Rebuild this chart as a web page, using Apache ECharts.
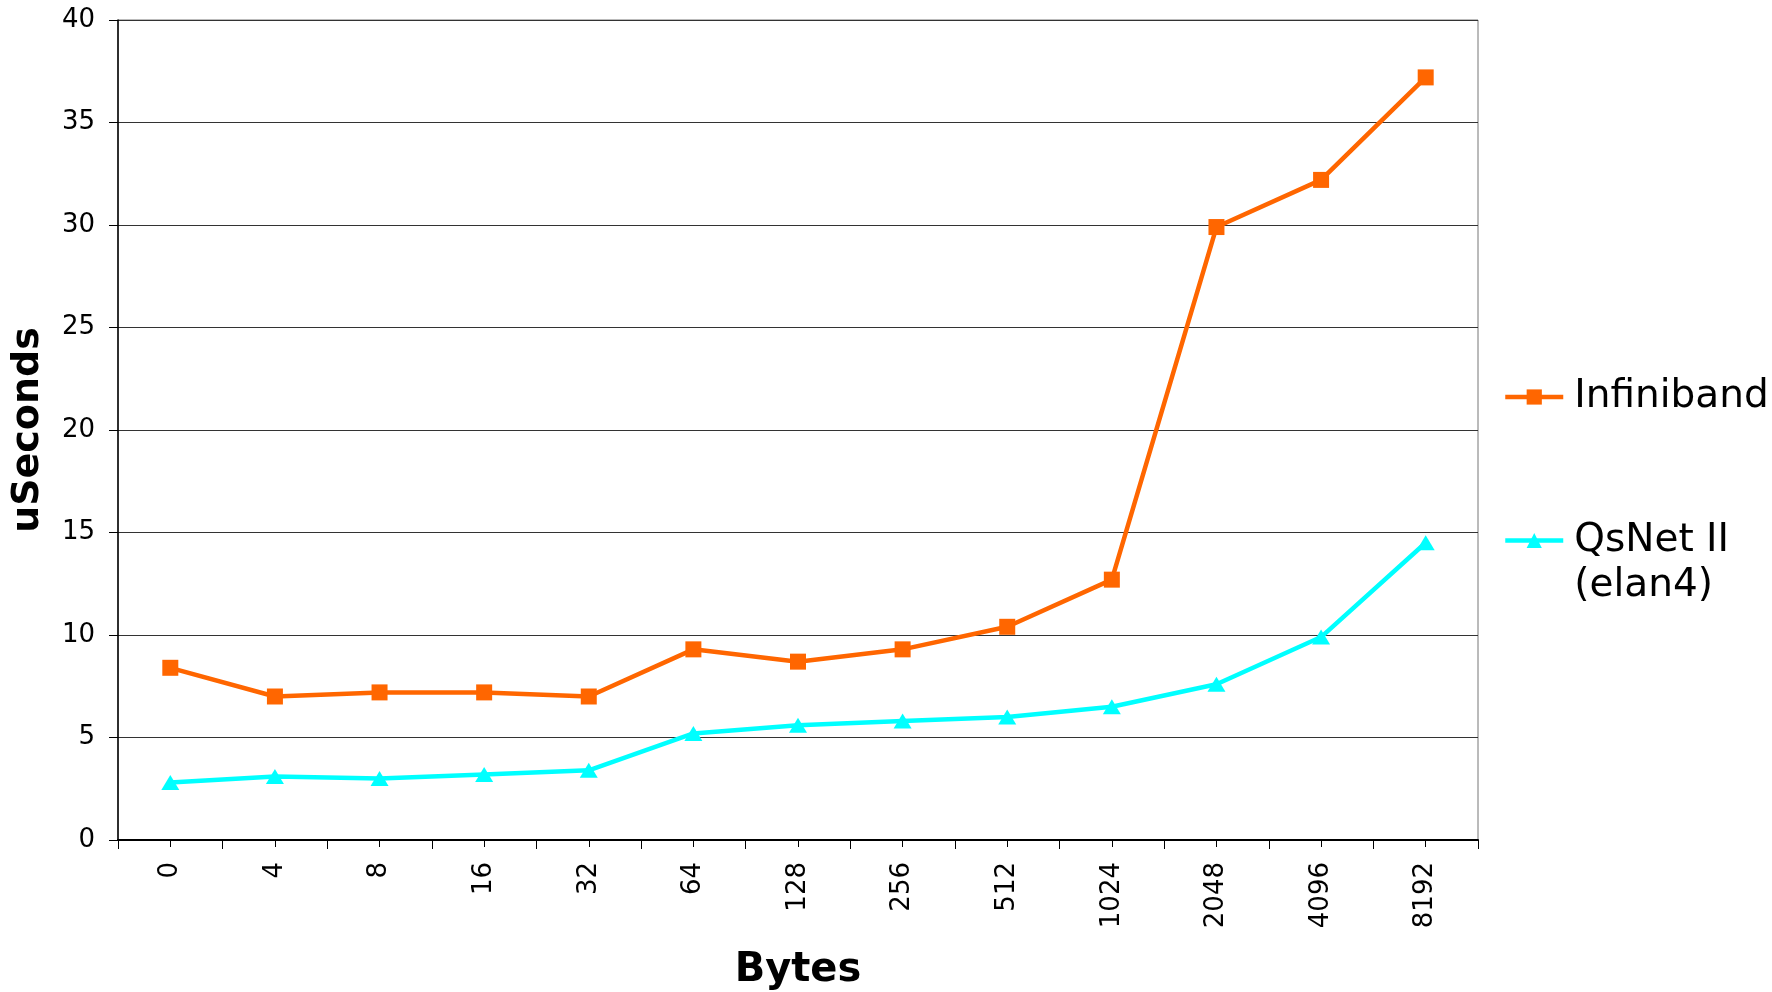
<!DOCTYPE html>
<html>
<head>
<meta charset="utf-8">
<script src="https://cdn.jsdelivr.net/npm/echarts@6/dist/echarts.min.js"></script>
<style>
  html, body { margin: 0; padding: 0; background: #fff; }
  #chart { width: 1772px; height: 992px; }
</style>
</head>
<body>
<div id="chart"></div>
<script>
// Message sizes (bytes) on the x axis
const categories = ['0', '4', '8', '16', '32', '64', '128', '256', '512', '1024', '2048', '4096', '8192'];

// Latency in microseconds
const infinibandName = 'Infiniband';
const infiniband = [8.4, 7.0, 7.2, 7.2, 7.0, 9.3, 8.7, 9.3, 10.4, 12.7, 29.9, 32.2, 37.2];

const qsnetName = 'QsNet II (elan4)';
const qsnet = [2.8, 3.1, 3.0, 3.2, 3.4, 5.2, 5.6, 5.8, 6.0, 6.5, 7.6, 9.9, 14.5];

const yMin = 0, yMax = 40, yStep = 5;

const FONT = '"DejaVu Sans", Verdana, sans-serif';

const chart = echarts.init(document.getElementById('chart'), null, { renderer: 'canvas' });

chart.setOption({
  backgroundColor: '#ffffff',
  animation: false,
  grid: {
    left: 118, top: 20, right: 294, bottom: 152,
    outerBoundsMode: 'none',
    containLabel: false,
    show: true, borderColor: '#777777', borderWidth: 1, backgroundColor: 'transparent'
  },
  legend: [
    {
      orient: 'vertical', left: 1498, top: 369,
      itemWidth: 58, itemHeight: 19,
      data: [infinibandName],
      lineStyle: { width: 4.5 },
      textStyle: { fontFamily: FONT, fontSize: 39, lineHeight: 46, color: '#000', padding: [0, 0, 0, 6] }
    },
    {
      orient: 'vertical', left: 1498, top: 468,
      itemWidth: 58, itemHeight: 19,
      data: [qsnetName],
      // blank first line keeps the marker level with "QsNet II"
      formatter: name => ' \n' + name.replace(' (', '\n('),
      lineStyle: { width: 4.5 },
      textStyle: { fontFamily: FONT, fontSize: 39, lineHeight: 45, color: '#000', padding: [0, 0, 0, 6] }
    }
  ],
  xAxis: [
    {
      type: 'category',
      data: categories,
      boundaryGap: true,
      name: 'Bytes',
      nameLocation: 'middle',
      nameGap: 111,
      nameTextStyle: { fontFamily: FONT, fontSize: 40, fontWeight: 'bold', color: '#000' },
      axisLine: { lineStyle: { color: '#000', width: 2 } },
      axisTick: { show: true, alignWithLabel: false, length: 9, lineStyle: { color: '#000', width: 1 } },
      axisLabel: { rotate: 90, margin: 22, fontFamily: FONT, fontSize: 26, color: '#000', interval: 0 },
      splitLine: { show: false }
    },
    {
      // centre ticks under each category
      type: 'category',
      data: categories,
      boundaryGap: true,
      position: 'bottom',
      axisLine: { show: false },
      axisTick: { show: true, alignWithLabel: true, length: 7, lineStyle: { color: '#000', width: 1 } },
      axisLabel: { show: false },
      splitLine: { show: false }
    }
  ],
  yAxis: {
    type: 'value',
    min: yMin, max: yMax, interval: yStep,
    name: 'uSeconds',
    nameLocation: 'middle',
    nameGap: 71,
    nameRotate: 90,
    nameTextStyle: { fontFamily: FONT, fontSize: 38, fontWeight: 'bold', color: '#000' },
    axisLine: { show: true, lineStyle: { color: '#000', width: 1.5 } },
    axisTick: { show: true, length: 9, lineStyle: { color: '#000', width: 1 } },
    axisLabel: { margin: 23, fontFamily: FONT, fontSize: 26, color: '#000' },
    splitLine: { show: true, lineStyle: { color: '#333333', width: 1 } }
  },
  series: [
    {
      name: infinibandName,
      type: 'line',
      data: infiniband,
      symbol: 'rect',
      symbolSize: 16,
      lineStyle: { color: '#FF6600', width: 4.5 },
      itemStyle: { color: '#FF6600' }
    },
    {
      name: qsnetName,
      type: 'line',
      data: qsnet,
      symbol: 'triangle',
      symbolSize: [18, 15],
      lineStyle: { color: '#00FFFF', width: 4.5 },
      itemStyle: { color: '#00FFFF' }
    }
  ]
});
</script>
</body>
</html>
